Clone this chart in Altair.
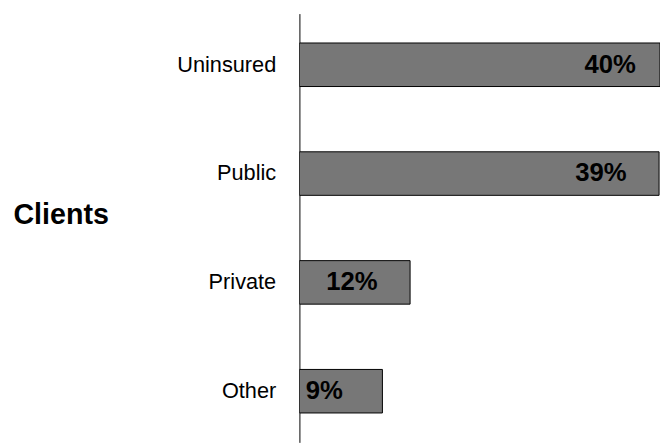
import altair as alt
import pandas as pd

categories = ["Uninsured", "Public", "Private", "Other"]
shares = [40, 39, 12, 9]
labels = ["40%", "39%", "12%", "9%"]

df = pd.DataFrame({"category": categories, "share": shares, "label": labels})

FONT = "Liberation Sans"

y_enc = alt.Y(
    "category:N",
    sort=categories,
    scale=alt.Scale(paddingInner=0.6, paddingOuter=0.27),
    axis=alt.Axis(
        title="Clients",
        titleAngle=0,
        titleAlign="left",
        titleBaseline="alphabetic",
        titleX=-290,
        titleY=212,
        titleFont=FONT,
        titleFontSize=29,
        titleFontWeight="bold",
        titleColor="#000000",
        labelFont=FONT,
        labelFontSize=22,
        labelColor="#000000",
        labelPadding=24,
        ticks=False,
        domainColor="#000000",
        domainWidth=1,
        grid=False,
    ),
)

x_scale = alt.Scale(domain=[0, 39.1], nice=False, zero=True, clamp=True)

bars = alt.Chart(df).mark_bar(
    fill="#777777", stroke="#000000", strokeWidth=1, clip=True
).encode(
    x=alt.X("share:Q", scale=x_scale, axis=None),
    y=y_enc,
)

text = alt.Chart(df).transform_calculate(
    pos="datum.share - 6.3"
).mark_text(
    font=FONT, fontSize=26, fontWeight="bold", color="#000000",
    align="center", baseline="middle"
).encode(
    x=alt.X("pos:Q", scale=x_scale, axis=None),
    y=alt.Y("category:N", sort=categories),
    text="label:N",
)

chart = alt.layer(bars, text).properties(
    width=365,
    height=434,
    padding={"left": 5, "top": 3, "right": 0, "bottom": 0},
    background="#ffffff",
).configure_view(strokeWidth=0)

chart.save("out.html", embed_options={"renderer": "svg", "actions": False})
